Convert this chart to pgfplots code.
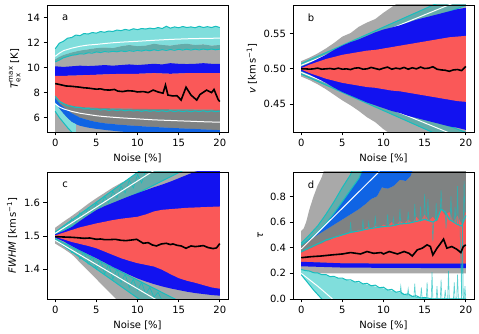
\documentclass[border=0pt]{standalone}
\usepackage{fontspec}
\setmainfont{DejaVu Sans}
\usepackage{amsmath}
\usepackage{pgfplots}
\pgfplotsset{compat=1.18}

\definecolor{cgray}{RGB}{169,169,169}
\definecolor{cdgray}{RGB}{127,130,130}
\definecolor{cblue}{RGB}{18,18,240}
\definecolor{cmblue}{RGB}{16,100,228}
\definecolor{cred}{RGB}{250,88,88}
\definecolor{ccyan}{RGB}{23,190,190}
\definecolor{clcyan}{RGB}{128,222,220}
\definecolor{cteal}{RGB}{100,172,170}

\pgfplotsset{
  panel/.style={
    scale only axis, width=181pt, height=127pt,
    xmin=-1, xmax=21, xtick={0,5,10,15,20},
    tick align=outside, tick pos=left, major tick length=3.5pt,
    tick style={black, line width=0.8pt},
    axis line style={line width=0.8pt},
    /pgf/number format/assume math mode=true,
    ticklabel style={font=\fontsize{10}{12}\selectfont},
    label style={font=\fontsize{10}{12}\selectfont},
    xlabel={Noise [\%]},
    no markers, axis on top,
  },
  band/.style={fill=#1, draw=none},
  cyanl/.style={ccyan, line width=1pt},
  cyann/.style={ccyan, line width=0.6pt},
  whitel/.style={white, line width=1pt},
  medl/.style={black, line width=1.6pt},
}

\begin{document}
\begin{tikzpicture}[x=1pt,y=1pt]
\useasboundingbox (0,0) rectangle (479,334);

% ---------------- a: Tex ----------------
\begin{axis}[panel, at={(47pt,202pt)}, anchor=south west,
  ymin=4.85, ymax=15, ytick={6,8,10,12,14},
  ylabel={$\textit{T}^{\text{max}}_{\text{ex}}$ [K]}]
% gray
\addplot[band=cgray] coordinates {(0,10.65)(0.5,10.85)(1,11.0)(2,11.2)(3,11.35)(4,11.45)(5,11.55)(6,11.6)(7,11.55)(8,11.7)(9,11.8)(10,11.7)(11,11.75)(12,11.9)(13,11.8)(14,11.75)(15,11.85)(16,11.9)(17,11.8)(18,11.85)(19,11.75)(20,11.8)
 (20,4)(0,4)};
% light cyan (upper)
\addplot[band=clcyan] coordinates {(0,11.5)(0.5,11.95)(1,12.1)(1.5,12.35)(2,12.4)(2.5,12.6)(3,12.55)(3.5,12.72)(4,12.68)(4.5,12.8)(5,12.75)(5.5,12.88)(6,12.82)(6.5,12.92)(7,12.88)(7.5,13.0)(8,12.95)(8.5,13.05)(9,12.98)(9.5,13.1)(10,13.03)(10.5,13.12)(11,13.08)(11.5,13.15)(12,13.1)(12.5,13.2)(13,13.12)(13.5,13.3)(14,13.15)(14.5,13.25)(15,13.18)(15.5,13.28)(16,13.2)(16.5,13.25)(17,13.18)(17.5,13.3)(18,13.2)(18.5,13.27)(19,13.2)(19.5,13.3)(20,13.2)
 (20,11.8)(19,11.75)(18,11.85)(17,11.8)(16,11.9)(15,11.85)(14,11.75)(13,11.8)(12,11.9)(11,11.75)(10,11.7)(9,11.8)(8,11.7)(7,11.55)(6,11.6)(5,11.55)(4,11.45)(3,11.35)(2,11.2)(1,11.0)(0.5,10.85)(0,10.65)};
% teal (cyan over gray)
\addplot[band=cteal] coordinates {(0,10.65)(0.5,10.85)(1,11.0)(2,11.2)(3,11.35)(4,11.45)(5,11.55)(6,11.6)(7,11.55)(8,11.7)(9,11.8)(10,11.7)(11,11.75)(12,11.9)(13,11.8)(14,11.75)(15,11.85)(16,11.9)(17,11.8)(18,11.85)(19,11.75)(20,11.8)
 (20,11.47)(18,11.48)(16,11.47)(14,11.44)(12,11.42)(10,11.37)(8,11.33)(6,11.28)(5,11.25)(4,11.18)(3,11.1)(2,10.98)(1,10.78)(0.5,10.6)(0,10.45)};
% blue
\addplot[band=cblue] coordinates {(0,10.1)(1,10.05)(2,10.1)(3,10.15)(4,10.12)(5,10.15)(6,10.2)(7,10.15)(8,10.2)(9,10.25)(10,10.2)(11,10.25)(12,10.3)(13,10.25)(14,10.35)(15,10.3)(16,10.28)(17,10.3)(18,10.35)(19,10.3)(20,10.3)
 (20,9.55)(18,9.55)(16,9.55)(14,9.5)(12,9.55)(10,9.5)(8,9.5)(6,9.45)(4,9.4)(2,9.35)(0,9.33)};
% red
\addplot[band=cred] coordinates {(0,9.33)(2,9.35)(4,9.4)(6,9.45)(8,9.5)(10,9.5)(12,9.55)(14,9.5)(16,9.55)(18,9.55)(20,9.55)
 (20,6.62)(18,6.64)(15,6.66)(12,6.68)(10,6.7)(7,6.74)(5,6.78)(3,6.85)(2,6.95)(1,7.15)(0.5,7.35)(0,7.65)};
% dark gray
\addplot[band=cdgray] coordinates {(0,7.65)(0.5,7.35)(1,7.15)(2,6.95)(3,6.85)(5,6.78)(7,6.74)(10,6.7)(12,6.68)(15,6.66)(18,6.64)(20,6.62)
 (20,5.0)(18,5.06)(16,5.12)(14,5.18)(12,5.25)(10,5.33)(8,5.42)(6,5.55)(5,5.65)(4,5.8)(3,6.0)(2,6.35)(1,6.85)(0.5,7.15)(0,7.55)};
% medium blue
\addplot[band=cmblue] coordinates {(0,7.55)(0.5,7.15)(1,6.85)(2,6.35)(3,6.0)(4,5.8)(5,5.65)(6,5.55)(8,5.42)(10,5.33)(12,5.25)(14,5.18)(16,5.12)(18,5.06)(20,5.0)
 (20,4.6)(10,4.78)(9,4.83)(8,4.88)(7,4.95)(6,5.02)(5,5.1)(4,5.2)(3,5.35)(2.5,5.48)(2,5.65)(1.5,5.95)(1,6.3)(0.5,6.7)(0,7.2)};
% light cyan (lower left)
\addplot[band=clcyan] coordinates {(0,7.2)(0.5,6.7)(1,6.3)(1.5,5.95)(2,5.65)(2.5,5.48)
 (2.5,4.5)(2,4.85)(1.5,5.2)(1,5.6)(0.5,6.0)(0,6.5)};
% lines
\addplot[cyanl] coordinates {(0,11.5)(0.5,11.95)(1,12.1)(1.5,12.35)(2,12.4)(2.5,12.6)(3,12.55)(3.5,12.72)(4,12.68)(4.5,12.8)(5,12.75)(5.5,12.88)(6,12.82)(6.5,12.92)(7,12.88)(7.5,13.0)(8,12.95)(8.5,13.05)(9,12.98)(9.5,13.1)(10,13.03)(10.5,13.12)(11,13.08)(11.5,13.15)(12,13.1)(12.5,13.2)(13,13.12)(13.5,13.3)(14,13.15)(14.5,13.25)(15,13.18)(15.5,13.28)(16,13.2)(16.5,13.25)(17,13.18)(17.5,13.3)(18,13.2)(18.5,13.27)(19,13.2)(19.5,13.3)(20,13.2)};
\addplot[cyanl] coordinates {(0,10.45)(0.5,10.6)(1,10.78)(1.5,10.88)(2,10.98)(2.5,11.02)(3,11.1)(3.5,11.08)(4,11.18)(4.5,11.15)(5,11.25)(5.5,11.2)(6,11.28)(6.5,11.24)(7,11.3)(7.5,11.26)(8,11.33)(8.5,11.28)(9,11.35)(9.5,11.3)(10,11.37)(10.5,11.32)(11,11.4)(11.5,11.34)(12,11.42)(12.5,11.36)(13,11.43)(13.5,11.37)(14,11.44)(14.5,11.38)(15,11.46)(15.5,11.4)(16,11.47)(16.5,11.4)(17,11.47)(17.5,11.41)(18,11.48)(18.5,11.42)(19,11.48)(19.5,11.42)(20,11.47)};
\addplot[cyanl] coordinates {(0,7.72)(0.5,7.3)(1,7.12)(1.5,6.95)(2,6.9)(2.5,6.8)(3,6.82)(3.5,6.7)(4,6.74)(4.5,6.65)(5,6.7)(5.5,6.6)(6,6.66)(6.5,6.57)(7,6.63)(7.5,6.55)(8,6.62)(8.5,6.54)(9,6.6)(9.5,6.52)(10,6.58)(10.5,6.5)(11,6.57)(11.5,6.5)(12,6.56)(12.5,6.48)(13,6.55)(13.5,6.48)(14,6.56)(14.5,6.47)(15,6.55)(15.5,6.47)(16,6.54)(16.5,6.46)(17,6.54)(17.5,6.47)(18,6.55)(18.5,6.46)(19,6.54)(19.5,6.47)(20,6.52)};
\addplot[cyanl] coordinates {(0,6.5)(0.5,6.0)(1,5.6)(1.5,5.2)(2,4.85)(2.5,4.5)};
\addplot[whitel] coordinates {(0,10.9)(0.5,11.15)(1,11.35)(2,11.55)(3,11.7)(4,11.8)(5,11.85)(6,11.92)(7,11.98)(8,12.03)(10,12.1)(12,12.18)(14,12.25)(16,12.3)(18,12.33)(20,12.35)};
\addplot[whitel] coordinates {(0,7.1)(0.5,6.85)(1,6.7)(2,6.5)(3,6.35)(4,6.25)(5,6.15)(6,6.08)(8,5.98)(10,5.9)(12,5.82)(14,5.77)(16,5.72)(18,5.67)(20,5.63)};
\addplot[medl] coordinates {(0,8.72)(0.5,8.65)(1.3,8.53)(2,8.5)(3,8.43)(3.5,8.38)(4,8.36)(5,8.27)(5.5,8.3)(6,8.22)(6.6,8.2)(7.2,8.25)(7.6,8.12)(8.2,8.08)(8.8,8.15)(9.5,8.12)(10,8.05)(10.7,8.08)(11.3,8.0)(11.9,8.2)(12.5,8.05)(13.1,7.95)(13.4,8.6)(13.7,7.8)(14.3,7.73)(14.8,7.75)(15.3,7.4)(15.9,8.43)(16.5,7.8)(17.2,7.4)(17.6,7.85)(18.4,8.2)(19.0,8.0)(19.3,8.25)(19.8,7.45)(20,7.28)};
\node[font=\fontsize{10}{12}\selectfont] at (rel axis cs:0.1,0.9) {a};
\end{axis}

% ---------------- b: v ----------------
\begin{axis}[panel, at={(293pt,202pt)}, anchor=south west,
  ymin=0.41, ymax=0.591, ytick={0.45,0.5,0.55},
  yticklabel style={/pgf/number format/fixed, /pgf/number format/fixed zerofill, /pgf/number format/precision=2},
  ylabel={\textit{v} [km\,s\textsuperscript{−1}]}]
\addplot[band=cgray] coordinates {(0,0.511)(1,0.516)(2,0.522)(3,0.529)(4,0.537)(5,0.546)(6,0.551)(7,0.56)(8,0.566)(9,0.571)(10,0.58)(11,0.588)(12,0.596)(13,0.603)(20,0.65)
 (20,0.35)(13,0.39)(12,0.398)(11,0.406)(10,0.414)(9,0.424)(8,0.431)(7,0.44)(6,0.448)(5,0.455)(4,0.463)(3,0.471)(2,0.478)(1,0.484)(0,0.489)};
\addplot[band=cteal] coordinates {(0,0.5075)(20,0.6115)(20,0.5905)(0,0.5025)};
\addplot[band=cteal] coordinates {(0,0.4975)(20,0.4095)(20,0.3885)(0,0.4925)};
\addplot[cyanl] coordinates {(0,0.5075)(20,0.6115)};
\addplot[cyanl] coordinates {(0,0.5025)(20,0.5905)};
\addplot[cyanl] coordinates {(0,0.4975)(20,0.4095)};
\addplot[cyanl] coordinates {(0,0.4925)(20,0.3885)};
\addplot[whitel] coordinates {(0,0.505)(20,0.601)};
\addplot[whitel] coordinates {(0,0.495)(20,0.399)};
\addplot[band=cblue] coordinates {(0,0.503)(1,0.508)(2,0.514)(3,0.52)(4,0.527)(5,0.533)(6,0.538)(7,0.542)(8,0.547)(9,0.552)(10,0.556)(11,0.559)(12,0.562)(13,0.566)(14,0.57)(15,0.573)(16,0.576)(17,0.579)(18,0.582)(19,0.585)(20,0.587)
 (20,0.413)(19,0.416)(18,0.418)(17,0.421)(16,0.424)(15,0.427)(14,0.43)(13,0.433)(12,0.437)(11,0.44)(10,0.444)(9,0.448)(8,0.452)(7,0.457)(6,0.462)(5,0.467)(4,0.473)(3,0.48)(2,0.486)(1,0.492)(0,0.497)};
\addplot[band=cred] coordinates {(0,0.501)(1,0.506)(2,0.51)(3,0.514)(4,0.517)(5,0.52)(6,0.522)(7,0.524)(8,0.526)(9,0.527)(10,0.529)(11,0.531)(12,0.533)(13,0.535)(14,0.537)(15,0.539)(16,0.541)(17,0.543)(18,0.545)(19,0.546)(20,0.547)
 (20,0.453)(19,0.454)(18,0.456)(17,0.458)(16,0.46)(15,0.462)(14,0.464)(13,0.466)(12,0.468)(11,0.469)(10,0.471)(9,0.473)(8,0.474)(7,0.476)(6,0.478)(5,0.48)(4,0.483)(3,0.486)(2,0.49)(1,0.494)(0,0.499)};
\addplot[medl] coordinates {(0,0.5)(0.5,0.5)(1,0.4995)(1.5,0.5)(2,0.501)(2.5,0.4995)(3,0.5)(3.5,0.5005)(4,0.4995)(4.5,0.501)(5,0.4995)(5.5,0.5)(6,0.499)(6.5,0.501)(7,0.5015)(7.5,0.4995)(8,0.5)(8.5,0.502)(9,0.5005)(9.5,0.499)(10,0.501)(10.5,0.5025)(11,0.4995)(11.5,0.501)(12,0.5)(12.5,0.502)(13,0.4995)(13.5,0.5015)(14,0.5)(14.5,0.5025)(15,0.5005)(15.5,0.501)(16,0.503)(16.5,0.4995)(17,0.4985)(17.5,0.498)(18,0.4965)(18.5,0.4985)(19,0.499)(19.5,0.4975)(20,0.5035)};
\node[font=\fontsize{10}{12}\selectfont] at (rel axis cs:0.1,0.9) {b};
\end{axis}

% ---------------- c: FWHM ----------------
\begin{axis}[panel, at={(47pt,35pt)}, anchor=south west,
  ymin=1.31, ymax=1.693, ytick={1.4,1.5,1.6},
  yticklabel style={/pgf/number format/fixed, /pgf/number format/fixed zerofill, /pgf/number format/precision=1},
  ylabel={\textit{FWHM} [km\,s\textsuperscript{−1}]}]
\addplot[band=cgray] coordinates {(0,1.525)(1,1.543)(2,1.56)(3,1.578)(4,1.597)(5,1.614)(6,1.63)(7,1.646)(8,1.66)(9,1.672)(10,1.683)(11,1.697)(12,1.71)(20,1.8)
 (20,1.1)(8,1.295)(7,1.32)(6,1.345)(5,1.37)(4,1.395)(3,1.42)(2.5,1.433)(2,1.445)(1,1.462)(0,1.477)};
\addplot[band=cteal] coordinates {(0,1.512)(20,1.872)(20,1.753)(0,1.505)};
\addplot[band=cteal] coordinates {(0,1.492)(20,1.242)(20,1.138)(0,1.488)};
\addplot[cyann] coordinates {(1,1.53)(1.5,1.525)(2,1.552)(2.5,1.54)(3,1.57)(3.5,1.556)(4,1.585)(4.5,1.57)(5,1.60)(5.5,1.585)(6,1.62)(6.5,1.60)(7,1.635)(7.5,1.615)(8,1.65)(8.5,1.63)(9,1.668)(9.5,1.645)(10,1.685)(10.5,1.66)(11,1.70)};
\addplot[cyann] coordinates {(1,1.47)(1.5,1.478)(2,1.45)(2.5,1.465)(3,1.43)(3.5,1.452)(4,1.415)(4.5,1.44)(5,1.40)(5.5,1.43)(6,1.385)(6.5,1.415)(7,1.37)(7.5,1.40)(8,1.36)(8.5,1.385)(9,1.345)(9.5,1.37)(10,1.335)(10.5,1.36)(11,1.325)(11.5,1.345)(12,1.315)(12.5,1.33)(13,1.305)};
\addplot[cyanl] coordinates {(0,1.512)(20,1.872)};
\addplot[cyanl] coordinates {(0,1.505)(20,1.753)};
\addplot[cyanl] coordinates {(0,1.492)(20,1.242)};
\addplot[cyanl] coordinates {(0,1.488)(20,1.138)};
\addplot[whitel] coordinates {(0,1.508)(20,1.824)};
\addplot[whitel] coordinates {(0,1.487)(20,1.195)};
\addplot[band=cblue] coordinates {(0,1.505)(1,1.515)(2,1.527)(3,1.545)(4,1.562)(5,1.578)(6,1.59)(7,1.6)(8,1.61)(9,1.62)(10,1.629)(11,1.638)(12,1.647)(13,1.655)(14,1.664)(15,1.674)(16,1.684)(17,1.694)(18,1.70)(20,1.71)
 (20,1.32)(19,1.322)(18,1.325)(17,1.328)(16,1.332)(15,1.337)(14,1.342)(13,1.348)(12,1.355)(11,1.363)(10,1.372)(9,1.383)(8,1.395)(7,1.407)(6,1.42)(5,1.433)(4,1.445)(3,1.457)(2,1.47)(1,1.484)(0,1.495)};
\addplot[band=cred] coordinates {(0,1.502)(1,1.51)(2,1.518)(3,1.526)(4,1.532)(5,1.538)(6,1.543)(7,1.548)(8,1.552)(9,1.555)(10,1.558)(11,1.565)(12,1.574)(13,1.579)(14,1.581)(15,1.583)(16,1.585)(17,1.586)(18,1.587)(19,1.588)(20,1.589)
 (20,1.341)(19,1.345)(18,1.352)(17,1.359)(16,1.365)(15,1.373)(14,1.385)(13,1.398)(12,1.408)(11,1.413)(10,1.418)(9,1.425)(8,1.433)(7,1.443)(6,1.453)(5,1.463)(4,1.47)(3,1.476)(2,1.482)(1,1.49)(0,1.498)};
\addplot[medl] coordinates {(0,1.498)(1,1.497)(2,1.496)(2.6,1.495)(3.5,1.493)(4.2,1.494)(5,1.49)(5.5,1.491)(6,1.489)(6.6,1.489)(7.3,1.49)(8,1.487)(8.6,1.486)(9.3,1.488)(9.9,1.49)(10.7,1.478)(11.3,1.48)(11.8,1.473)(12.3,1.47)(12.9,1.476)(13.5,1.478)(14,1.474)(14.3,1.476)(14.8,1.472)(15.3,1.47)(15.9,1.463)(16.5,1.47)(17,1.468)(17.4,1.469)(18,1.471)(18.6,1.465)(19.2,1.462)(19.6,1.464)(20,1.477)};
\node[font=\fontsize{10}{12}\selectfont] at (rel axis cs:0.1,0.9) {c};
\end{axis}

% ---------------- d: tau ----------------
\begin{axis}[panel, at={(293pt,35pt)}, anchor=south west,
  ymin=0, ymax=0.99, ytick={0,0.2,0.4,0.6,0.8},
  yticklabel style={/pgf/number format/fixed, /pgf/number format/fixed zerofill, /pgf/number format/precision=1},
  ylabel={\textit{τ}}]
\addplot[band=cgray] coordinates {(0,0.53)(0.3,0.55)(0.6,0.6)(1,0.7)(1.5,0.8)(2,0.885)(2.5,0.95)(3,1.05)(20,1.05)(20,0.2)(0,0.2)};
\addplot[band=cdgray] coordinates {(0,0.42)(1,0.46)(2,0.5)(3,0.54)(4,0.58)(5,0.62)(6,0.66)(7,0.7)(7.8,0.74)(8.5,0.78)(9.2,0.8)(9.8,0.87)(10.5,0.86)(11.2,0.88)(12,0.93)(12.7,0.92)(13.3,0.96)(13.8,1.05)(20,1.05)
 (20,0.27)(0,0.27)};
\addplot[band=cmblue] coordinates {(0,0.42)(1,0.47)(2,0.52)(3,0.59)(4,0.67)(5,0.76)(6,0.85)(7,0.94)(7.7,1.05)(13.8,1.05)
 (13.3,0.96)(12.7,0.92)(12,0.93)(11.2,0.88)(10.5,0.86)(9.8,0.87)(9.2,0.8)(8.5,0.78)(7.8,0.74)(7,0.7)(6,0.66)(5,0.62)(4,0.58)(3,0.54)(2,0.5)(1,0.46)(0,0.42)};
\addplot[band=cteal] coordinates {(0,0.435)(1,0.5)(2,0.57)(3,0.66)(4,0.76)(5,0.87)(6,0.97)(6.4,1.05)(7.7,1.05)
 (7,0.94)(6,0.85)(5,0.76)(4,0.67)(3,0.59)(2,0.52)(1,0.47)(0,0.42)};
\addplot[cyanl] coordinates {(0,0.435)(1,0.5)(2,0.57)(3,0.66)(4,0.76)(5,0.87)(6,0.97)(6.4,1.05)};
\addplot[cyanl] coordinates {(0,0.42)(1,0.47)(2,0.52)(3,0.59)(4,0.67)(5,0.76)(6,0.85)(7,0.94)(7.7,1.05)};
\addplot[whitel] coordinates {(0,0.39)(9.5,0.994)};
\addplot[band=cred] coordinates {(0,0.36)(0.5,0.375)(1,0.39)(1.5,0.405)(2,0.42)(2.5,0.432)(3,0.45)(3.5,0.46)(4,0.48)(4.5,0.485)(5,0.5)(5.5,0.505)(6,0.52)(6.5,0.52)(7,0.54)(7.5,0.535)(8,0.56)(8.5,0.545)(9,0.57)(9.5,0.555)(10,0.58)(10.5,0.565)(11,0.6)(11.5,0.57)(12,0.61)(12.5,0.585)(13,0.62)(13.5,0.59)(14,0.64)(14.5,0.6)(15,0.66)(15.5,0.61)(16,0.64)(16.5,0.6)(17,0.7)(17.5,0.65)(18,0.68)(18.5,0.6)(19,0.65)(19.5,0.58)(20,0.68)
 (20,0.275)(10,0.276)(5,0.278)(0,0.29)};
\addplot[band=cblue] coordinates {(0,0.29)(5,0.278)(10,0.276)(20,0.275)(20,0.24)(10,0.243)(5,0.245)(0,0.255)};
% noisy spikes around the upper cyan curve
\addplot[cyann, opacity=0.7] coordinates {(3,0.46)(5,0.5)(5.9,0.515)(6,0.6)(6.1,0.52)(7.4,0.535)(7.5,0.62)(7.6,0.54)(8.1,0.545)(8.2,0.6)(8.3,0.55)(8.9,0.555)(9,0.65)(9.1,0.56)(10.4,0.565)(10.5,0.66)(10.6,0.568)(11.1,0.57)(11.2,0.63)(11.3,0.575)(11.9,0.58)(12,0.7)(12.1,0.585)(12.9,0.59)(13,0.68)(13.1,0.592)(13.7,0.6)(13.8,0.74)(13.9,0.602)(14.4,0.61)(14.5,0.72)(14.6,0.612)(14.9,0.618)(15,0.82)(15.1,0.62)(15.3,0.62)(15.4,0.78)(15.5,0.615)(15.9,0.6)(16,0.45)(16.1,0.6)(16.3,0.61)(16.4,0.75)(16.5,0.62)(16.9,0.68)(17,0.85)(17.1,0.69)(17.5,0.68)(17.6,0.55)(17.7,0.66)(18.1,0.62)(18.2,0.8)(18.3,0.62)(18.6,0.6)(18.7,0.72)(18.8,0.6)(18.9,0.59)(19,0.88)(19.1,0.58)(19.3,0.575)(19.4,0.3)(19.5,0.0)(19.6,0.57)(19.7,0.6)(19.8,0.92)(19.9,0.62)(20,0.65)};
\addplot[cyanl] coordinates {(0,0.37)(1,0.4)(2,0.43)(3,0.46)(4,0.48)(5,0.5)(6,0.52)(7,0.53)(8,0.545)(9,0.555)(10,0.565)(11,0.57)(12,0.585)(13,0.59)(14,0.605)(15,0.62)(16,0.6)(16.5,0.62)(17,0.7)(17.5,0.68)(18,0.62)(18.5,0.6)(19,0.58)(19.5,0.57)(20,0.65)};
% lower cyan band
\addplot[band=clcyan] coordinates {(0,0.23)(1,0.215)(2,0.2)(3,0.185)(4,0.17)(5,0.157)(6,0.142)(7,0.128)(8,0.112)(9,0.097)(10,0.082)(11,0.065)(12,0.048)(13,0.03)(14,0.015)(15,0.005)(16,0)
 (2.5,0)(2,0.035)(1.5,0.07)(1,0.11)(0.5,0.15)(0,0.19)};
\addplot[cyann, opacity=0.7] coordinates {(12,0.045)(12.1,0.1)(12.2,0.04)(12.9,0.03)(13,0.08)(13.1,0.03)(13.7,0.018)(13.8,0.12)(13.9,0.015)(14.5,0.008)(14.6,0.09)(14.7,0.006)(15.2,0.003)(15.3,0.13)(15.4,0.0)(15.8,0)(15.9,0.21)(16,0)(16.4,0)(16.5,0.1)(16.6,0)(16.9,0)(17,0.15)(17.1,0)(17.4,0)(17.5,0.07)(17.6,0)(17.8,0)(17.9,0.22)(18,0)(18.5,0)(18.6,0.13)(18.7,0)(18.9,0)(19,0.19)(19.1,0)(19.5,0)(19.6,0.62)(19.7,0)(19.8,0)(19.9,0.1)(20,0)};
\addplot[cyanl] coordinates {(0,0.23)(0.5,0.222)(1,0.218)(1.5,0.205)(2,0.203)(2.5,0.19)(3,0.19)(3.5,0.175)(4,0.176)(4.5,0.162)(5,0.163)(5.5,0.148)(6,0.15)(6.5,0.133)(7,0.137)(7.5,0.118)(8,0.122)(8.5,0.103)(9,0.108)(9.5,0.088)(10,0.092)(10.5,0.07)(11,0.075)(11.5,0.053)(12,0.058)(12.5,0.035)(13,0.04)(13.5,0.02)(14,0.025)(14.5,0.008)(15,0.012)(16,0.0)(20,0.0)};
\addplot[cyanl] coordinates {(0,0.19)(0.5,0.15)(1,0.11)(1.5,0.07)(2,0.035)(2.5,0)};
\addplot[whitel] coordinates {(0,0.2)(1,0.15)(2,0.1)(3,0.045)(3.8,0)};
\addplot[medl] coordinates {(0,0.322)(1.2,0.33)(2.4,0.335)(3.6,0.343)(5,0.351)(6,0.362)(7.2,0.351)(8,0.37)(8.8,0.356)(9.7,0.362)(10,0.351)(10.7,0.37)(11.7,0.351)(12.5,0.37)(13.1,0.356)(13.5,0.335)(14.1,0.383)(14.7,0.396)(15.3,0.422)(15.7,0.409)(16,0.343)(16.5,0.396)(16.9,0.43)(17.3,0.467)(17.7,0.396)(18.3,0.409)(18.9,0.388)(19.4,0.362)(19.7,0.409)(20,0.422)};
\node[font=\fontsize{10}{12}\selectfont] at (rel axis cs:0.1,0.9) {d};
\end{axis}
\end{tikzpicture}
\end{document}
